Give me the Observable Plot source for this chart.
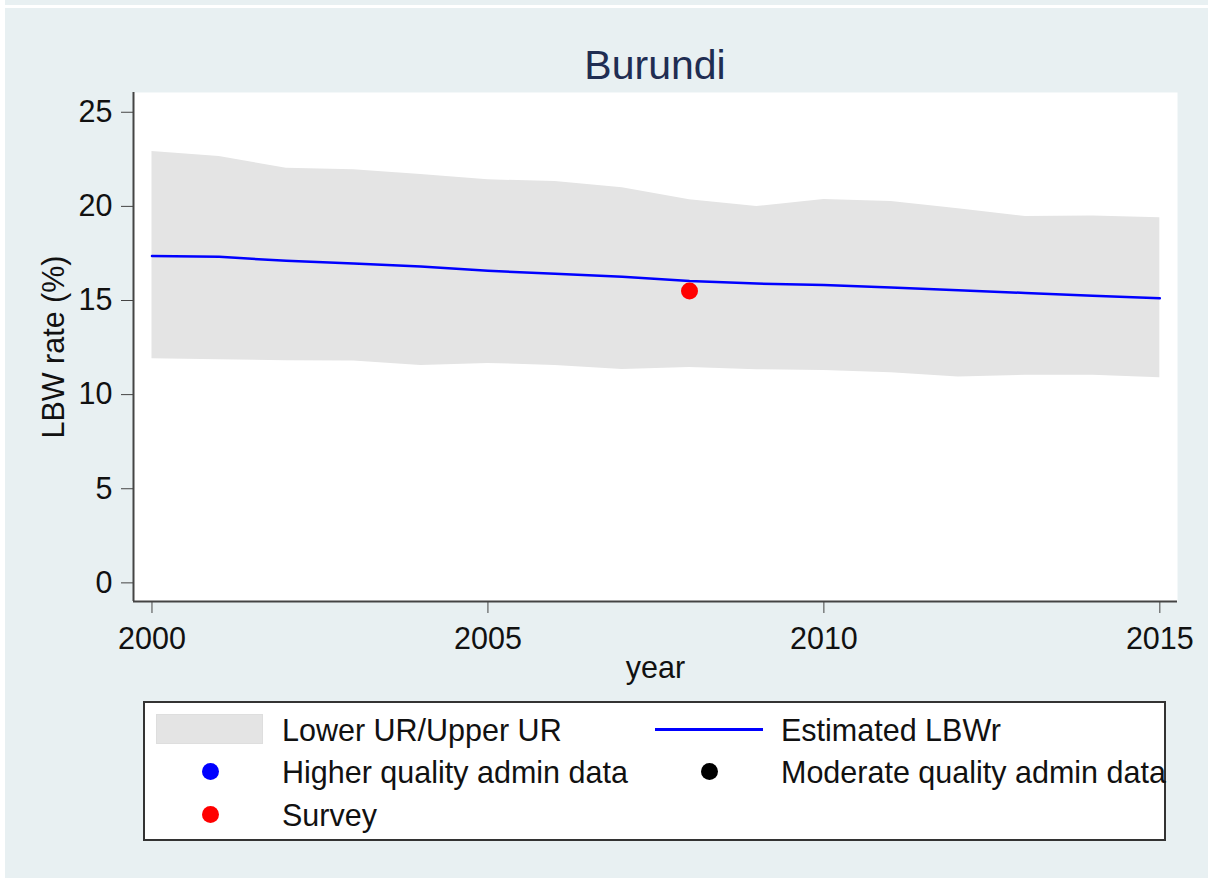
<!DOCTYPE html>
<html>
<head>
<meta charset="utf-8">
<script src="https://cdn.jsdelivr.net/npm/d3@7"></script>
<script src="https://cdn.jsdelivr.net/npm/@observablehq/plot@0.6"></script>
<style>
  html, body { margin: 0; padding: 0; background: #ffffff; }
  #page { position: relative; width: 1208px; height: 878px; overflow: hidden; font-family: "Liberation Sans", Arial, sans-serif; }
  #bg { position: absolute; left: 5px; top: 0; width: 1203px; height: 878px; background: #e8f0f2; }
  #topline { position: absolute; left: 5px; top: 5px; width: 1203px; height: 2.5px; background: #ffffff; }
  #title { position: absolute; left: 133px; width: 1044px; top: 44.6px; text-align: center; font-size: 41px; line-height: 41px; color: #1f2d52; }
  #chart { position: absolute; left: 0; top: 88px; }
  #legend { position: absolute; left: 143px; top: 701px; width: 1019px; height: 136px; background: #ffffff; border: 2px solid #333333; }
  .lg-text { position: absolute; font-size: 30.5px; line-height: 30px; color: #111111; white-space: nowrap; }
  .lg-dot { position: absolute; width: 17px; height: 17px; border-radius: 50%; }
  .lg-rect { position: absolute; background: #e4e4e4; border: 1px solid #dedede; box-sizing: border-box; }
  .lg-line { position: absolute; height: 2.5px; background: #0000ff; }
</style>
</head>
<body>
<div id="page">
  <div id="bg"></div>
  <div id="topline"></div>
  <div id="title"></div>
  <div id="chart"></div>
  <div id="legend"></div>
</div>
<script>
// ---- data ----
const country = "Burundi";
const years = [2000, 2001, 2002, 2003, 2004, 2005, 2006, 2007, 2008, 2009, 2010, 2011, 2012, 2013, 2014, 2015];
const upperUR = [22.92, 22.65, 22.03, 21.95, 21.70, 21.41, 21.32, 20.99, 20.35, 19.99, 20.36, 20.26, 19.87, 19.46, 19.49, 19.39];
const lowerUR = [11.90, 11.85, 11.80, 11.79, 11.55, 11.66, 11.55, 11.34, 11.44, 11.32, 11.28, 11.16, 10.93, 11.03, 11.03, 10.89];
const estimatedLBWr = [17.36, 17.32, 17.11, 16.97, 16.81, 16.58, 16.42, 16.26, 16.04, 15.90, 15.82, 15.69, 15.55, 15.40, 15.25, 15.12];
const surveyYears = [2008];
const surveyValues = [15.51];
const higherAdminYears = [];
const higherAdminValues = [];
const moderateAdminYears = [];
const moderateAdminValues = [];
const xTicks = [2000, 2005, 2010, 2015];
const yTicks = [0, 5, 10, 15, 20, 25];
const xDomain = [1999.725, 2015.263];
const yDomain = [-0.99, 26.05];
const legendLabels = ["Lower UR/Upper UR", "Estimated LBWr", "Higher quality admin data", "Moderate quality admin data", "Survey"];

// ---- tables ----
const series = years.map((year, i) => ({year, lower: lowerUR[i], upper: upperUR[i], est: estimatedLBWr[i]}));
const survey = surveyYears.map((year, i) => ({year, value: surveyValues[i]}));
const higher = higherAdminYears.map((year, i) => ({year, value: higherAdminValues[i]}));
const moderate = moderateAdminYears.map((year, i) => ({year, value: moderateAdminValues[i]}));

document.getElementById("title").textContent = country;

const chart = Plot.plot({
  width: 1208,
  height: 602,
  marginLeft: 133,
  marginRight: 31,
  marginTop: 4,
  marginBottom: 89,
  style: {
    background: "transparent",
    fontFamily: "'Liberation Sans', Arial, sans-serif",
    fontSize: "30.5px",
    color: "#111111",
    overflow: "visible"
  },
  x: {domain: xDomain},
  y: {domain: yDomain},
  marks: [
    Plot.frame({fill: "#ffffff", stroke: null}),
    Plot.areaY(series, {x: "year", y1: "lower", y2: "upper", fill: "#e4e4e4"}),
    Plot.lineY(series, {x: "year", y: "est", stroke: "#0000ff", strokeWidth: 2.5}),
    Plot.dot(higher, {x: "year", y: "value", r: 8.5, fill: "#0000ff"}),
    Plot.dot(moderate, {x: "year", y: "value", r: 8.5, fill: "#000000"}),
    Plot.dot(survey, {x: "year", y: "value", r: 8.5, fill: "#ff0000"}),
    Plot.axisY({
      ticks: yTicks, tickSize: 12, tickPadding: 9, stroke: "#444444",
      label: "LBW rate (%)", labelAnchor: "center", labelOffset: 91, labelArrow: "none"
    }),
    Plot.axisX({
      ticks: xTicks, tickSize: 12, tickPadding: 14, tickFormat: "d", stroke: "#444444",
      label: "year", labelAnchor: "center", labelOffset: 76, labelArrow: "none"
    }),
    Plot.ruleX([xDomain[0]], {stroke: "#444444", strokeWidth: 2}),
    Plot.ruleY([yDomain[0]], {stroke: "#444444", strokeWidth: 2})
  ]
});
document.getElementById("chart").appendChild(chart);

// ---- legend (HTML) ----
const legend = document.getElementById("legend");
const L = 145, T = 703; // inner origin of legend box (page coords)
function add(cls, style, text) {
  const el = document.createElement("div");
  el.className = cls;
  Object.assign(el.style, style);
  if (text) el.textContent = text;
  legend.appendChild(el);
}
// swatches
add("lg-rect", {left: (156 - L) + "px", top: (714 - T) + "px", width: "107px", height: "30px"});
add("lg-line", {left: (655 - L) + "px", top: (728 - T) + "px", width: "108px"});
add("lg-dot", {left: (201.5 - L) + "px", top: (763 - T) + "px", background: "#0000ff"});
add("lg-dot", {left: (700.5 - L) + "px", top: (763 - T) + "px", background: "#000000"});
add("lg-dot", {left: (201.5 - L) + "px", top: (805.5 - T) + "px", background: "#ff0000"});
// labels
add("lg-text", {left: (282 - L) + "px", top: (714.6 - T) + "px"}, legendLabels[0]);
add("lg-text", {left: (781 - L) + "px", top: (714.6 - T) + "px"}, legendLabels[1]);
add("lg-text", {left: (282 - L) + "px", top: (757.3 - T) + "px"}, legendLabels[2]);
add("lg-text", {left: (781 - L) + "px", top: (757.3 - T) + "px"}, legendLabels[3]);
add("lg-text", {left: (282 - L) + "px", top: (799.6 - T) + "px"}, legendLabels[4]);
</script>
</body>
</html>
